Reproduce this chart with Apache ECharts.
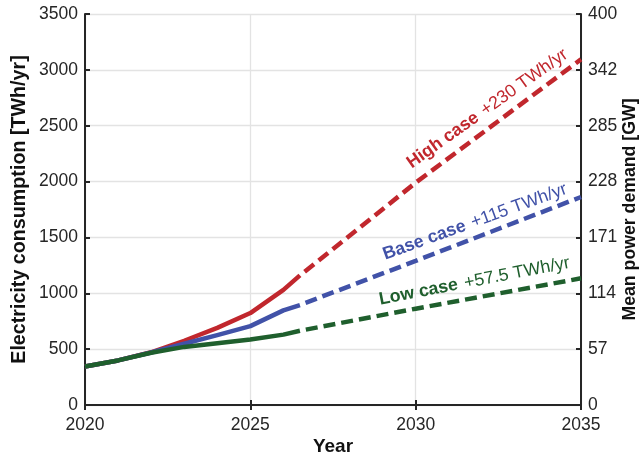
<!DOCTYPE html>
<html>
<head>
<meta charset="utf-8">
<script src="https://cdn.jsdelivr.net/npm/echarts@6/dist/echarts.min.js"></script>
<style>
html,body{margin:0;padding:0;background:#fff;}
#chart{width:642px;height:458px;}
</style>
</head>
<body>
<div id="chart"></div>
<script>
// ---- data ----
var histYears = [2020, 2021, 2022, 2023, 2024, 2025, 2026, 2026.5];
var highHist  = [345, 399, 472, 575, 690, 823, 1030, 1160];
var baseHist  = [345, 399, 470, 548, 625, 706, 847, 895];
var lowHist   = [345, 399, 468, 520, 552, 587, 630, 665];

var projYears = [2026.5, 2030, 2035];
var highProj  = [1160, 1990, 3094];
var baseProj  = [895, 1290, 1862];
var lowProj   = [665, 862, 1134];

var xTicks = [2020, 2025, 2030, 2035];
var leftTicks = [0, 500, 1000, 1500, 2000, 2500, 3000, 3500];
var rightTickLabels = ['0', '57', '114', '171', '228', '285', '342', '400'];

var caseNames = ['High case', 'Base case', 'Low case'];
var caseRates = ['+230 TWh/yr', '+115 TWh/yr', '+57.5 TWh/yr'];
// label anchors (data coords) and rotation in degrees
var labelAnchorX = [2029.95, 2029.12, 2028.95];
var labelAnchorY = [2085, 1265, 862];
var labelAngle   = [35.5, 20, 11];

var colors = ['#c1272d', '#4152a8', '#1f5f2d'];
var axisColor = '#262626';
var FONT = '"Liberation Sans", Arial, Helvetica, sans-serif';

function zip(xs, ys){ return xs.map(function(x,i){ return [x, ys[i]]; }); }

var hists = [highHist, baseHist, lowHist];
var projs = [highProj, baseProj, lowProj];

var series = [];
for (var i = 0; i < 3; i++) {
  series.push({
    type: 'line', name: caseNames[i] + ' hist', data: zip(histYears, hists[i]),
    showSymbol: false, symbol: 'none', silent: true, z: 2 + i,
    lineStyle: { color: colors[i], width: 4.5, cap: 'butt', join: 'round' }
  });
  series.push({
    type: 'line', name: caseNames[i] + ' proj', data: zip(projYears, projs[i]),
    showSymbol: false, symbol: 'none', silent: true, z: 2 + i,
    lineStyle: { color: colors[i], width: 4.5, type: [12, 6], dashOffset: 12, cap: 'butt' }
  });
}

var tickLabelStyle = { color: axisColor, fontSize: 17.5, fontFamily: FONT };

var option = {
  animation: false,
  backgroundColor: '#fff',
  grid: { left: 85, right: 61, top: 14, bottom: 53, containLabel: false, outerBoundsMode: 'none' },
  xAxis: [{
    type: 'value', min: 2020, max: 2035, interval: 5, position: 'bottom',
    name: 'Year', nameLocation: 'middle', nameGap: 32, nameMoveOverlap: false,
    nameTextStyle: { color: '#111', fontSize: 19, fontWeight: 'bold', fontFamily: FONT },
    axisLine: { show: true, lineStyle: { color: axisColor, width: 2 } },
    axisTick: { show: true, inside: true, length: 5, lineStyle: { color: axisColor, width: 2 } },
    axisLabel: Object.assign({ margin: 11, formatter: function(v){ return String(v); } }, tickLabelStyle),
    splitLine: { show: true, lineStyle: { color: '#e3e3e3', width: 1.3 } }
  }, {
    type: 'value', min: 2020, max: 2035, interval: 5, position: 'top',
    axisLine: { show: true, lineStyle: { color: axisColor, width: 2 } },
    axisTick: { show: true, inside: true, length: 5, lineStyle: { color: axisColor, width: 2 } },
    axisLabel: { show: false }, splitLine: { show: false }
  }],
  yAxis: [{
    type: 'value', min: 0, max: 3500, interval: 500, position: 'left',
    name: 'Electricity consumption [TWh/yr]', nameLocation: 'middle', nameGap: 55, nameMoveOverlap: false,
    nameTextStyle: { color: '#111', fontSize: 19.7, fontWeight: 'bold', fontFamily: FONT },
    axisLine: { show: true, lineStyle: { color: axisColor, width: 2 } },
    axisTick: { show: true, inside: true, length: 5, lineStyle: { color: axisColor, width: 2 } },
    axisLabel: Object.assign({ margin: 7, formatter: function(v){ return String(v); } }, tickLabelStyle),
    splitLine: { show: true, lineStyle: { color: '#e3e3e3', width: 1.3 } }
  }, {
    type: 'value', min: 0, max: 3500, interval: 500, position: 'right',
    name: 'Mean power demand [GW]', nameLocation: 'middle', nameGap: 40, nameRotate: 90, nameMoveOverlap: false,
    nameTextStyle: { color: '#111', fontSize: 17.7, fontWeight: 'bold', fontFamily: FONT },
    axisLine: { show: true, lineStyle: { color: axisColor, width: 2 } },
    axisTick: { show: true, inside: true, length: 5, lineStyle: { color: axisColor, width: 2 } },
    axisLabel: Object.assign({ margin: 7, formatter: function(v){
      var idx = leftTicks.indexOf(v); return idx >= 0 ? rightTickLabels[idx] : ''; } }, tickLabelStyle),
    splitLine: { show: false }
  }],
  series: series
};

var chart = echarts.init(document.getElementById('chart'), null, { renderer: 'canvas' });
chart.setOption(option);

var graphics = [];
for (var k = 0; k < 3; k++) {
  var p = chart.convertToPixel({ xAxisIndex: 0, yAxisIndex: 0 }, [labelAnchorX[k], labelAnchorY[k]]);
  graphics.push({
    type: 'text', x: p[0], y: p[1], rotation: labelAngle[k] * Math.PI / 180, z: 100,
    style: {
      text: '{b|' + caseNames[k] + '}  {n|' + caseRates[k] + '}',
      align: 'left', verticalAlign: 'bottom', fill: colors[k],
      rich: {
        b: { fontWeight: 'bold', fontSize: 17.8, fontFamily: FONT, fill: colors[k] },
        n: { fontWeight: 'normal', fontSize: 17.8, fontFamily: FONT, fill: colors[k] }
      }
    }
  });
}
chart.setOption({ graphic: graphics });
</script>
</body>
</html>
